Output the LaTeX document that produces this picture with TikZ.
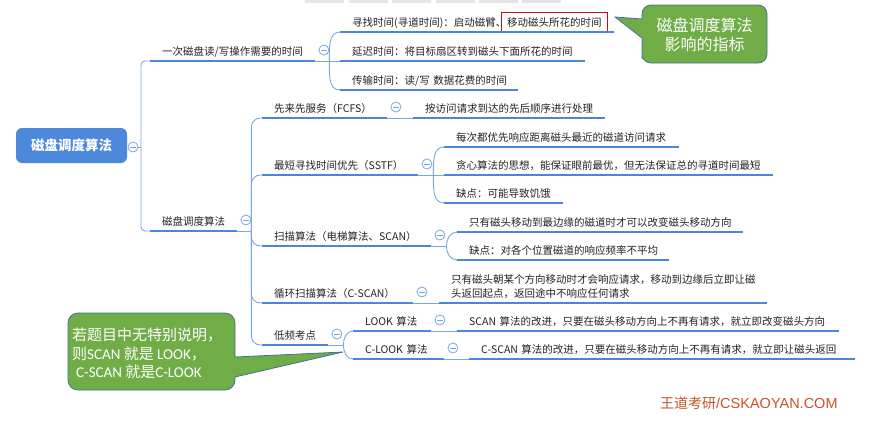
\documentclass[tikz,border=0pt]{standalone}
\usepackage{fontspec}
\setmainfont{Noto Sans CJK SC}
\newfontfamily\latfont{Carlito}
\newfontfamily\wmfont{Liberation Sans}
\definecolor{ink}{RGB}{34,34,34}
\definecolor{ublue}{RGB}{74,134,224}
\definecolor{linkc}{RGB}{122,166,228}
\definecolor{rootblue}{RGB}{78,136,218}
\definecolor{callgreen}{RGB}{112,173,71}
\definecolor{callline}{RGB}{66,113,158}
\definecolor{hlred}{RGB}{192,16,24}
\definecolor{wmred}{RGB}{196,84,40}
\definecolor{barg}{RGB}{228,228,228}
\tikzset{
  topic/.style={anchor=south west, inner xsep=12pt, inner ysep=3pt, text height=8pt, text depth=2.5pt,
    align=left, text=ink, font=\fontsize{10.5}{14}\selectfont},
  uline/.style={draw=ublue, line width=2.4pt},
  link/.style={draw=linkc, line width=0.9pt},
  fold/.style={circle, draw=linkc, fill=white, line width=0.8pt, minimum size=10pt, inner sep=0pt,
    path picture={\draw[linkc, line width=0.9pt] ([xshift=-2.6pt]path picture bounding box.center) -- ([xshift=2.6pt]path picture bounding box.center);}},
  rootbox/.style={fill=rootblue, rounded corners=6pt, minimum width=111pt, minimum height=35pt,
    text=white, font=\fontsize{13.5}{16}\selectfont\bfseries},
  callout/.style={fill=callgreen, draw=callline, line width=0.8pt},
  calltext/.style={text=white, inner sep=0pt, font=\fontsize{16}{18.5}\selectfont}
}
\begin{document}
\begin{tikzpicture}[x=1pt,y=-1pt]
\useasboundingbox (0,0) rectangle (883,423);
% toolbar remnants
\foreach \x in {305,349,392,436,479,522} \fill[barg] (\x,0) rectangle +(39,2.5);

% root
\node[rootbox] (root) at (71.5,145.5) {磁盘调度算法};
\node[fold] (f0) at (133,147) {};
\coordinate (j0) at (141,147);

% first level
\node[topic, text width=141pt] (b1) at (150,61) {一次磁盘读/写操作需要的时间};
\node[topic, text width=63pt] (b2) at (150,231) {磁盘调度算法};
\node[fold] (f1) at ([shift={(8.5,-11)}]b1.south east) {};
\node[fold] (f2) at ([shift={(8.5,-11)}]b2.south east) {};
\coordinate (j1) at ([xshift=14pt]b1.south east);
\coordinate (j2) at ([xshift=14pt]b2.south east);

% times
\node[topic, text width=250pt] (seek) at (340,32) {\mbox{寻找时间(寻道时间)：启动磁臂、\kern-5pt{\fboxsep=5pt\fboxrule=0.9pt\fcolorbox{hlred}{white}{移动磁头所花的时间}}}};
\node[topic, text width=221pt] (delay) at (340,61) {延迟时间：将目标扇区转到磁头下面所花的时间};
\node[topic, text width=154pt] (trans) at (340,90) {传输时间：读/写~数据花费的时间};

% algorithms
\node[topic, text width=101pt] (fcfs) at (262,118) {先来先服务（FCFS）};
\node[topic, text width=132pt] (sstf) at (262,175) {最短寻找时间优先（SSTF）};
\node[topic, text width=145pt] (scan) at (262,246) {扫描算法（电梯算法、SCAN）};
\node[topic, text width=127pt] (cscan) at (262,303) {循环扫描算法（C-SCAN）};
\node[topic, text width=42pt] (low) at (262,345) {低频考点};
\foreach \n in {fcfs,sstf,scan,cscan,low}
  \node[fold] (f\n) at ([shift={(8.5,-11)}]\n.south east) {};
\coordinate (jsstf) at ([xshift=15pt]sstf.south east);
\coordinate (jscan) at ([xshift=15pt]scan.south east);
\coordinate (jlow) at ([xshift=15pt]low.south east);

\node[topic, text width=168pt] (fcfsa) at (413,118) {按访问请求到达的先后顺序进行处理};
\node[topic, text width=211pt] (sstfa) at (444,147) {每次都优先响应距离磁头最近的磁道访问请求};
\node[topic, text width=305pt] (sstfb) at (444,175) {贪心算法的思想，能保证眼前最优，但无法保证总的寻道时间最短};
\node[topic, text width=95pt] (sstfc) at (444,203) {缺点：可能导致饥饿};
\node[topic, text width=262pt] (scana) at (457,232) {只有磁头移动到最边缘的磁道时才可以改变磁头移动方向};
\node[topic, text width=188pt] (scanb) at (457,260) {缺点：对各个位置磁道的响应频率不平均};
\node[topic, text width=304pt, text depth=16.5pt] (cscana) at (439,303) {只有磁头朝某个方向移动时才会响应请求，移动到边缘后立即让磁\\头返回起点，返回途中不响应任何请求};

% low frequency
\node[topic, text width=54pt] (look) at (353,331) {LOOK~算法};
\node[topic, text width=67pt] (clook) at (353,359) {C-LOOK~算法};
\node[fold] (flook) at ([shift={(8.5,-11)}]look.south east) {};
\node[fold] (fclook) at ([shift={(8.5,-11)}]clook.south east) {};
\node[topic, text width=358pt] (looka) at (457,331) {SCAN~算法的改进，只要在磁头移动方向上不再有请求，就立即改变磁头方向};
\node[topic, text width=362pt] (clooka) at (469,359) {C-SCAN~算法的改进，只要在磁头移动方向上不再有请求，就立即让磁头返回};

% connectors
\draw[link] (f0) -- (j0);
\draw[link, rounded corners=4pt] (j0) |- (b1.south west);
\draw[link, rounded corners=4pt] (j0) |- (b2.south west);
\draw[link] (b1.south east) -- (j1);
\draw[link] (j1) to[out=90,in=180] (seek.south west);
\draw[link] (j1) -- (delay.south west);
\draw[link] (j1) to[out=-90,in=180] (trans.south west);
\draw[link] (b2.south east) -- (j2);
\foreach \c in {fcfs,sstf,scan,cscan,low}
  \draw[link, rounded corners=9pt] (j2) |- (\c.south west);
\draw[link] (fcfs.south east) -- (fcfsa.south west);
\draw[link] (sstf.south east) -- (jsstf);
\draw[link] (jsstf) to[out=90,in=180] (sstfa.south west);
\draw[link] (jsstf) -- (sstfb.south west);
\draw[link] (jsstf) to[out=-90,in=180] (sstfc.south west);
\draw[link] (scan.south east) -- (jscan);
\draw[link] (jscan) to[out=90,in=180] (scana.south west);
\draw[link] (jscan) to[out=-90,in=180] (scanb.south west);
\draw[link] (cscan.south east) -- (cscana.south west);
\draw[link] (low.south east) -- (jlow);
\draw[link] (jlow) to[out=90,in=180] (look.south west);
\draw[link] (jlow) to[out=-90,in=180] (clook.south west);
\draw[link] (look.south east) -- (looka.south west);
\draw[link] (clook.south east) -- (clooka.south west);

% underlines
\foreach \n in {b1,b2,seek,delay,trans,fcfs,fcfsa,sstf,sstfa,sstfb,sstfc,scan,scana,scanb,cscan,cscana,low,look,looka,clook,clooka}
  \draw[uline] (\n.south west) -- (\n.south east);

% callouts
\draw[callout] (642,50) -- (642,38) -- (615,17) -- (642,19) [rounded corners=9pt] -- (642,5) -- (767,5) -- (767,63) -- (642,63) -- cycle;
\node[calltext, align=center] (note1) at (704.5,35) {磁盘调度算法\\影响的指标};
\draw[callout] (235,345) -- (235,357) -- (343,352) -- (235,377) [rounded corners=10pt] -- (235,390) -- (68,390) -- (68,313) -- (235,313) -- cycle;
\node[calltext, align=left, anchor=north west, font=\fontsize{15}{18.5}\selectfont] (note2) at (72,328)
  {若题目中无特别说明，\\则{\latfont SCAN} 就是 {\latfont LOOK}，\\\hspace{4pt}{\latfont C-SCAN} 就是{\latfont C-LOOK}};

% watermark
\node[anchor=west, inner sep=0pt, text=wmred, font=\fontsize{14}{16}\selectfont] (wm) at (660,403) {王道考研{\wmfont\fontsize{14.5}{16}\selectfont /CSKAOYAN.COM}};
\end{tikzpicture}
\end{document}
